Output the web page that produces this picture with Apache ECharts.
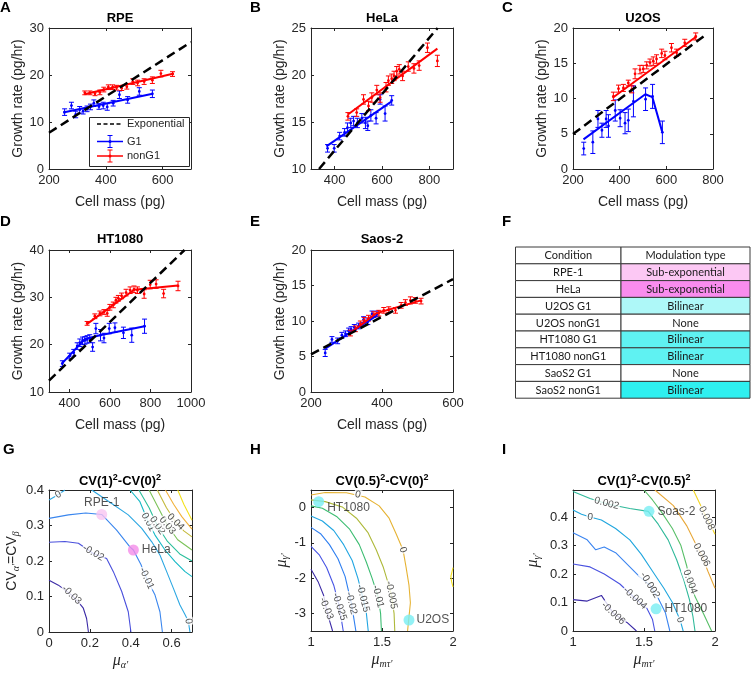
<!DOCTYPE html>
<html>
<head>
<meta charset="utf-8">
<script src="https://cdn.jsdelivr.net/npm/echarts@6/dist/echarts.min.js"></script>
<style>
html,body{margin:0;padding:0;background:#ffffff;}
#chart{width:751px;height:674px;}
</style>
</head>
<body>
<div id="chart"></div>
<script>
// ================= DATA =================
// tick labels
const ticksAx=[200,400,600], ticksAy=[0,10,20,30];
const ticksBx=[400,600,800], ticksBy=[10,15,20,25];
const ticksCx=[200,400,600,800], ticksCy=[0,5,10,15,20];
const ticksDx=[400,600,800,1000], ticksDy=[10,20,30,40];
const ticksEx=[200,400,600], ticksEy=[0,5,10,15,20];
const ticksGx=[0,0.2,0.4,0.6], ticksGy=[0,0.1,0.2,0.3,0.4];
const ticksHx=[1,1.5,2], ticksHy=[-3,-2,-1,0];
const ticksIx=[1,1.5,2], ticksIy=[0,0.1,0.2,0.3,0.4];

// Panel A (RPE): [mass, rate, err]
const aG1=[[255,12.1,0.7],[279,13.5,0.7],[294,11.6,0.7],[308,12.6,0.7],[320,12.3,0.6],[334,12.8,0.6],[346,13.2,0.6],[358,14.0,0.7],[376,13.3,0.6],[391,13.5,0.7],[405,13.2,0.7],[426,14.0,0.6],[448,15.8,0.8],[477,14.7,0.7],[518,16.5,0.8],[564,16.0,0.8]];
const aNonG1=[[326,16.2,0.4],[344,16.2,0.4],[362,16.0,0.4],[379,16.3,0.5],[393,16.9,0.5],[409,17.4,0.5],[424,17.4,0.5],[438,17.3,0.5],[456,17.2,0.5],[474,17.5,0.5],[495,18.6,0.6],[512,18.3,0.6],[535,18.6,0.6],[564,18.9,0.7],[594,20.3,0.7],[635,20.2,0.5]];
const aFitG1=[[250,12.0],[565,16.0]];
const aFitNonG1=[[325,15.9],[640,20.3]];
const aExp=[[200,7.72],[700,27.0]];

// Panel B (HeLa)
const bG1=[[370,12.2,0.4],[398,12.2,0.4],[421,13.5,0.4],[442,13.9,0.4],[454,14.4,0.5],[468,14.9,0.5],[480,15.1,0.5],[496,14.9,0.5],[515,15.4,0.5],[530,14.9,0.6],[540,14.6,0.5],[553,15.7,0.6],[575,15.4,0.6],[592,17.4,0.5],[613,15.9,0.8],[641,17.3,0.5]];
const bNonG1=[[456,15.6,0.4],[493,16.0,0.4],[522,17.4,0.5],[543,16.7,0.5],[557,17.6,0.5],[578,18.4,0.5],[592,17.6,0.5],[617,18.7,0.5],[627,19.4,0.5],[641,19.6,0.5],[651,19.9,0.5],[662,20.4,0.5],[673,20.6,0.5],[687,19.9,0.5],[711,20.9,0.5],[735,20.7,0.5],[757,21.0,0.5],[792,22.9,0.5],[834,21.5,0.6]];
const bFitG1=[[365,12.4],[641,17.2]];
const bFitNonG1=[[456,15.8],[834,22.8]];
const bExp=[[334,10],[835,25]];

// Panel C (U2OS)
const cG1=[[246,2.9,0.9],[285,3.8,1.6],[307,7.1,1.2],[324,5.5,1.0],[342,7.1,1.2],[352,6.1,1.6],[381,8.3,1.5],[402,7.2,1.2],[423,6.5,1.5],[437,6.9,1.6],[459,9.6,2.2],[511,9.9,1.6],[541,10.3,1.7],[583,5.2,1.6]];
const cNonG1=[[373,10.3,0.6],[395,11.4,0.5],[416,11.5,0.5],[437,12.2,0.4],[452,11.3,0.5],[466,13.5,0.7],[487,14.1,0.6],[501,14.2,0.5],[516,14.7,0.5],[530,15.1,0.5],[544,15.3,0.6],[558,15.6,0.6],[580,16.4,0.6],[594,16.1,0.6],[622,17.2,0.6],[644,16.5,0.5],[679,17.9,0.5],[726,18.8,0.5]];
const cFitG1=[[245,4.2],[510,10.6],[540,10.2],[582,5.3]];
const cFitNonG1=[[370,10.1],[729,18.8]];
const cExp=[[200,4.96],[771,19.1]];

// Panel D (HT1080)
const dG1=[[366,16.0,0.6],[402,17.6,0.6],[422,18.3,0.7],[439,19.7,0.7],[452,20.4,0.8],[465,20.8,0.8],[477,20.9,0.8],[488,21.1,0.8],[501,21.3,0.8],[515,19.5,0.9],[531,23.4,1.1],[554,22.0,1.2],[571,21.4,1.0],[597,23.4,1.1],[625,23.6,1.0],[667,22.5,1.2],[708,22.0,1.5],[771,23.9,1.5]];
const dNonG1=[[488,24.5,0.4],[526,26.0,0.5],[551,26.6,0.5],[571,26.9,0.5],[587,26.6,0.6],[600,27.9,0.6],[617,28.4,0.6],[630,29.4,0.6],[642,29.8,0.6],[658,30.3,0.6],[680,31.0,0.7],[700,31.5,0.7],[719,31.7,0.7],[736,31.5,0.7],[769,30.7,0.9],[799,32.7,0.9],[828,32.8,0.9],[865,30.8,0.9],[936,32.4,1.0]];
const dFitG1=[[361,15.9],[477,21.2],[551,22.0],[771,23.9]];
const dFitNonG1=[[488,24.4],[720,31.6],[936,32.5]];
const dExp=[[300,12.4],[968,40]];

// Panel E (Saos-2)
const eG1=[[240,5.5,0.5],[259,7.4,0.4],[275,7.2,0.4],[287,8.0,0.4],[297,8.2,0.4],[306,8.6,0.4],[313,8.8,0.4],[322,9.1,0.4],[334,9.3,0.4],[348,10.2,0.4],[360,9.9,0.4],[372,11.0,0.4],[386,11.0,0.4]];
const eNonG1=[[311,8.3,0.4],[325,8.9,0.4],[339,9.6,0.4],[350,10.1,0.4],[362,10.4,0.4],[377,10.9,0.4],[391,11.1,0.4],[405,11.5,0.4],[419,11.6,0.4],[438,11.5,0.4],[454,12.2,0.4],[466,12.6,0.4],[480,12.9,0.5],[494,12.9,0.4],[510,12.8,0.4]];
const eFitG1=[[240,6.1],[386,10.8]];
const eFitNonG1=[[311,8.3],[384,11.1],[510,12.9]];
const eExp=[[200,5.3],[600,15.9]];

// Panel F table
const conditions=['RPE-1','HeLa','U2OS G1','U2OS nonG1','HT1080 G1','HT1080 nonG1','SaoS2 G1','SaoS2 nonG1'];
const modulation=['Sub-exponential','Sub-exponential','Bilinear','None','Bilinear','Bilinear','None','Bilinear'];

// Panel G contours
const gLevels=[-0.03,-0.02,-0.01,0,0,0.01,0.02,0.03,0.04,0.05,0.06];
const gLines=[
 [[0,0.146],[0.046,0.132],[0.111,0.104],[0.15,0.08],[0.168,0.067],[0.184,0.038],[0.193,0]],
 [[0,0.253],[0.078,0.255],[0.144,0.25],[0.217,0.221],[0.282,0.207],[0.315,0.17],[0.356,0.114],[0.388,0.057],[0.401,0]],
 [[0,0.32],[0.095,0.33],[0.18,0.335],[0.258,0.331],[0.331,0.287],[0.396,0.24],[0.413,0.231],[0.45,0.19],[0.478,0.151],[0.519,0.104],[0.543,0.057],[0.555,0]],
 [[0,0.372],[0.04,0.385],[0.078,0.4]],
 [[0.209,0.4],[0.307,0.362],[0.388,0.33],[0.454,0.292],[0.503,0.254],[0.543,0.217],[0.576,0.17],[0.609,0.123],[0.641,0.076],[0.665,0.05],[0.682,0.03],[0.69,0]],
 [[0.397,0.4],[0.445,0.367],[0.486,0.31],[0.519,0.273],[0.568,0.231],[0.617,0.198],[0.666,0.17],[0.7,0.156]],
 [[0.44,0.4],[0.49,0.35],[0.53,0.3],[0.58,0.255],[0.64,0.22],[0.7,0.2]],
 [[0.49,0.4],[0.535,0.35],[0.58,0.3],[0.63,0.26],[0.7,0.231]],
 [[0.53,0.4],[0.575,0.35],[0.62,0.31],[0.66,0.285],[0.7,0.268]],
 [[0.57,0.4],[0.61,0.36],[0.65,0.325],[0.7,0.29]],
 [[0.63,0.4],[0.66,0.36],[0.7,0.315]]
];
const gLabels=[[0.045,0.387,'0',30],[0.111,0.104,'-0.03',-43],[0.217,0.223,'-0.02',-30],[0.478,0.151,'-0.01',-65],[0.682,0.03,'0',-80],[0.486,0.31,'0.01',-62],[0.53,0.3,'0.02',-55],[0.58,0.3,'0.03',-50],[0.62,0.31,'0.04',-45]];
const gDots=[['RPE-1',0.258,0.331],['HeLa',0.413,0.231]];

// Panel H contours
const hLevels=[-0.03,-0.025,-0.02,-0.015,-0.01,-0.005,0,0.005];
const hLines=[
 [[1.0,-1.75],[1.05,-2.1],[1.09,-2.5],[1.108,-2.86],[1.13,-3.2],[1.152,-3.5]],
 [[1.0,-1.1],[1.06,-1.35],[1.11,-1.7],[1.16,-2.2],[1.2,-2.81],[1.215,-3.2],[1.227,-3.5]],
 [[1.0,-0.56],[1.07,-0.75],[1.13,-1.05],[1.19,-1.45],[1.24,-1.95],[1.284,-2.71],[1.3,-3.1],[1.316,-3.5]],
 [[1.0,-0.24],[1.08,-0.38],[1.16,-0.65],[1.23,-1.05],[1.29,-1.5],[1.33,-2.0],[1.366,-2.57],[1.39,-3.0],[1.403,-3.5]],
 [[1.0,0.05],[1.08,-0.02],[1.18,-0.25],[1.27,-0.6],[1.34,-1.05],[1.39,-1.55],[1.43,-2.0],[1.472,-2.52],[1.49,-3.0],[1.496,-3.5]],
 [[1.0,0.22],[1.1,0.17],[1.22,0.02],[1.32,-0.3],[1.4,-0.7],[1.46,-1.2],[1.51,-1.7],[1.54,-2.1],[1.566,-2.48],[1.585,-3.0],[1.59,-3.5]],
 [[1.0,0.36],[1.1,0.43],[1.25,0.42],[1.38,0.3],[1.48,0.05],[1.55,-0.3],[1.6,-0.75],[1.648,-1.2],[1.67,-1.7],[1.69,-2.2],[1.7,-2.7],[1.69,-3.1],[1.68,-3.5]],
 [[2.0,-1.7],[1.985,-1.95],[1.99,-2.1],[2.0,-2.25]]
];
const hLabels=[[1.33,0.37,'0',-13],[1.648,-1.2,'0',-73],[1.566,-2.48,'-0.005',-79],[1.472,-2.52,'-0.01',-76],[1.366,-2.57,'-0.015',-76],[1.284,-2.71,'-0.02',-77],[1.2,-2.81,'-0.025',-72],[1.108,-2.86,'-0.03',-68]];
const hDots=[['HT1080',1.054,0.17],['U2OS',1.69,-3.19]];

// Panel I contours
const iLevels=[-0.006,-0.004,-0.002,0,0.002,0.004,0.006,0.008];
const iLines=[
 [[1.0,0.11],[1.1,0.105],[1.2,0.125],[1.284,0.062],[1.38,0.03],[1.447,0]],
 [[1.0,0.235],[1.12,0.225],[1.22,0.2],[1.33,0.165],[1.437,0.115],[1.52,0.08],[1.56,0.04],[1.576,0]],
 [[1.0,0.345],[1.1,0.32],[1.16,0.285],[1.22,0.295],[1.3,0.275],[1.4,0.225],[1.47,0.19],[1.542,0.161],[1.6,0.115],[1.65,0.065],[1.682,0]],
 [[1.0,0.425],[1.06,0.41],[1.12,0.40],[1.2,0.39],[1.3,0.36],[1.4,0.32],[1.48,0.27],[1.56,0.21],[1.64,0.15],[1.7,0.10],[1.754,0.039],[1.776,0]],
 [[1.0,0.49],[1.12,0.465],[1.25,0.445],[1.4,0.43],[1.53,0.42],[1.6,0.375],[1.67,0.32],[1.73,0.25],[1.78,0.18],[1.82,0.11],[1.845,0.05],[1.859,0]],
 [[1.5,0.495],[1.56,0.46],[1.62,0.42],[1.7,0.36],[1.76,0.3],[1.8,0.23],[1.824,0.173],[1.86,0.12],[1.92,0.06],[1.976,0]],
 [[1.577,0.495],[1.707,0.44],[1.8,0.37],[1.86,0.31],[1.906,0.267],[1.95,0.21],[2.0,0.15]],
 [[1.847,0.495],[1.9,0.44],[1.941,0.396],[1.97,0.37],[2.0,0.34]]
];
const iLabels=[[1.237,0.448,'0.002',-15],[1.12,0.40,'0',-8],[1.542,0.161,'-0.002',-58],[1.437,0.115,'-0.004',-42],[1.284,0.062,'-0.006',-43],[1.754,0.039,'0',-69],[1.824,0.173,'0.004',-70],[1.906,0.267,'0.006',-62],[1.941,0.396,'0.008',-65]];
const iDots=[['Soas-2',1.535,0.42],['HT1080',1.585,0.078]];

// ================= STYLE / LAYOUT =================
const FONT="'Liberation Sans', Arial, Helvetica, sans-serif";
const SERIF="'Liberation Serif', 'DejaVu Serif', serif";
const AXC='#262626';
const BLUE='#0000ff', RED='#ff0000';
const grids=[[49,28,142,141],[311,28,142,141],[573,28,140,141],[49,250,142,142],[311,250,142,142],[49,490,143,142],[311,490,142,141],[573,490,142,141]];
const gColors=['#3b2aa6','#4a50dc','#3a86ee','#2ca7e2','#2ca7e2','#16b9c6','#2bbf9c','#7cc35a','#c4ba3c','#f2b23c','#f4e11e'];
const hColors=['#3b2aa6','#4855e4','#2f7ff0','#22a6e2','#3dbd72','#aeb93a','#e6b334','#f5e11e'];
const iColors=['#3b2aa6','#4a52e0','#3a84f0','#20a6de','#2fb99a','#58bf68','#e8a83a','#f2d523'];
const modColors=['#fcc8f4','#f98cee','#aef8f8','#ffffff','#5ff2f2','#5ff2f2','#ffffff','#2ef0f0'];

const xAxes=[], yAxes=[];
function nameStyle(rich){return {fontSize:14,fontFamily:FONT,color:AXC,rich:rich||undefined};}
const fmt=v=>String(v);
function addAxes(gi,xr,xt,yr,yt,xname,yname,xgap,ygap,xrich,yrich){
  const common=(ticks)=>({type:'value',gridIndex:gi,splitLine:{show:false},
    axisLine:{show:true,onZero:false,lineStyle:{color:AXC,width:1}},
    axisTick:{show:true,inside:true,length:3,customValues:ticks,lineStyle:{color:AXC,width:1}}});
  xAxes.push(Object.assign(common(xt),{min:xr[0],max:xr[1],position:'bottom',
    axisLabel:{customValues:xt,formatter:fmt,color:AXC,fontSize:13,fontFamily:FONT,margin:5},
    name:xname,nameLocation:'middle',nameGap:xgap,nameTextStyle:nameStyle(xrich)}));
  xAxes.push(Object.assign(common(xt),{min:xr[0],max:xr[1],position:'top',axisLabel:{show:false}}));
  yAxes.push(Object.assign(common(yt),{min:yr[0],max:yr[1],position:'left',
    axisLabel:{customValues:yt,formatter:fmt,color:AXC,fontSize:13,fontFamily:FONT,margin:5},
    name:yname,nameLocation:'middle',nameGap:ygap,nameTextStyle:nameStyle(yrich)}));
  yAxes.push(Object.assign(common(yt),{min:yr[0],max:yr[1],position:'right',axisLabel:{show:false}}));
}
const subRich={
  n:{fontSize:14,fontFamily:FONT,color:AXC,lineHeight:18},
  m:{fontSize:16,fontFamily:SERIF,fontStyle:'italic',color:AXC,lineHeight:18},
  s:{fontSize:10,fontFamily:SERIF,fontStyle:'italic',color:AXC,lineHeight:6,verticalAlign:'bottom'}
};
addAxes(0,[200,700],ticksAx,[0,30],ticksAy,'Cell mass (pg)','Growth rate (pg/hr)',26,18);
addAxes(1,[300,900],ticksBx,[10,25],ticksBy,'Cell mass (pg)','Growth rate (pg/hr)',26,18);
addAxes(2,[200,800],ticksCx,[0,20],ticksCy,'Cell mass (pg)','Growth rate (pg/hr)',26,18);
addAxes(3,[300,1000],ticksDx,[10,40],ticksDy,'Cell mass (pg)','Growth rate (pg/hr)',26,18);
addAxes(4,[200,600],ticksEx,[0,20],ticksEy,'Cell mass (pg)','Growth rate (pg/hr)',26,18);
addAxes(5,[0,0.7],ticksGx,[0,0.4],ticksGy,"{m|μ}{s|α'}","{n|CV}{s|α'}{n|=CV}{s|β}",20,28,subRich,subRich);
addAxes(6,[1,2],ticksHx,[-3.5,0.5],ticksHy,"{m|μ}{s|mτ'}","{m|μ}{s|γ'}",20,19,subRich,subRich);
addAxes(7,[1,2],ticksIx,[0,0.495],ticksIy,"{m|μ}{s|mτ'}","{m|μ}{s|γ'}",20,31,subRich,subRich);

const series=[];
function errRender(color){
  return function(params,api){
    const x=api.value(0), y=api.value(1), e=api.value(2);
    const p=api.coord([x,y]), lo=api.coord([x,y-e]), hi=api.coord([x,y+e]);
    const w=2.5, st={stroke:color,lineWidth:1};
    return {type:'group',children:[
      {type:'line',shape:{x1:p[0],y1:hi[1],x2:p[0],y2:lo[1]},style:st},
      {type:'line',shape:{x1:p[0]-w,y1:hi[1],x2:p[0]+w,y2:hi[1]},style:st},
      {type:'line',shape:{x1:p[0]-w,y1:lo[1],x2:p[0]+w,y2:lo[1]},style:st},
      {type:'circle',shape:{cx:p[0],cy:p[1],r:1.4},style:{fill:color}}
    ]};
  };
}
function growthPanel(gi,g1,non,fitG1,fitNon,exp){
  const ax={xAxisIndex:2*gi,yAxisIndex:2*gi};
  series.push(Object.assign({type:'custom',data:g1,encode:{x:0,y:1},renderItem:errRender(BLUE),z:2},ax));
  series.push(Object.assign({type:'custom',data:non,encode:{x:0,y:1},renderItem:errRender(RED),z:2},ax));
  series.push(Object.assign({type:'line',data:fitG1,symbol:'none',lineStyle:{color:BLUE,width:2},z:3},ax));
  series.push(Object.assign({type:'line',data:fitNon,symbol:'none',lineStyle:{color:RED,width:2},z:3},ax));
  series.push(Object.assign({type:'line',data:exp,symbol:'none',lineStyle:{color:'#000',width:2.5,type:[9,5]},z:4},ax));
}
growthPanel(0,aG1,aNonG1,aFitG1,aFitNonG1,aExp);
growthPanel(1,bG1,bNonG1,bFitG1,bFitNonG1,bExp);
growthPanel(2,cG1,cNonG1,cFitG1,cFitNonG1,cExp);
growthPanel(3,dG1,dNonG1,dFitG1,dFitNonG1,dExp);
growthPanel(4,eG1,eNonG1,eFitG1,eFitNonG1,eExp);

function contourPanel(gi,lines,colors,labels,dots,dotColors,dotLabelPos){
  const ax={xAxisIndex:2*gi,yAxisIndex:2*gi};
  lines.forEach((pts,k)=>series.push(Object.assign({type:'line',data:pts,symbol:'none',silent:true,
     lineStyle:{color:colors[k],width:1.1},z:2},ax)));
  series.push(Object.assign({type:'scatter',symbolSize:0.1,itemStyle:{color:'rgba(0,0,0,0)'},z:5,silent:true,
    label:{show:true,position:'inside',fontSize:10,fontFamily:FONT,color:AXC,backgroundColor:'#ffffff',padding:[0,1]},
    data:labels.map(l=>({value:[l[0],l[1]],label:{formatter:l[2],rotate:l[3]}}))},ax));
  series.push(Object.assign({type:'scatter',symbolSize:11,z:6,silent:true,
    label:{show:true,fontSize:12,fontFamily:FONT,color:AXC},
    data:dots.map((d,k)=>({value:[d[1],d[2]],itemStyle:{color:dotColors[k]},
      label:Object.assign({formatter:d[0]},dotLabelPos[k])}))},ax));
}
contourPanel(5,gLines,gColors,gLabels,gDots,['#f9c4f1','#f48ce8'],[{position:'top',distance:0},{position:'right',distance:3}]);
contourPanel(6,hLines,hColors,hLabels,hDots,['#78eef2','#78eef2'],[{position:[14,6]},{position:'right',distance:2}]);
contourPanel(7,iLines,iColors,iLabels,iDots,['#78eef2','#78eef2'],[{position:'right',distance:3},{position:'right',distance:3}]);

// ================= GRAPHIC TEXT / TABLE / LEGEND =================
const graphic=[];
function txt(x,y,text,font,align,extra){
  graphic.push({type:'text',z:100,style:Object.assign({x,y,text,font,fill:AXC,align:align||'center',verticalAlign:'middle'},extra||{})});
}
[['A',0,8],['B',250,8],['C',502,8],['D',0,222],['E',250,222],['F',502,222],['G',3,450],['H',250,450],['I',502,450]]
  .forEach(l=>txt(l[1],l[2],l[0],'bold 15px '+FONT,'left',{fill:'#000'}));
[['RPE',120,18],['HeLa',382,18],['U2OS',643,18],['HT1080',120,239],['Saos-2',382,239]]
  .forEach(t=>txt(t[1],t[2],t[0],'bold 13px '+FONT,'center',{fill:'#000'}));
const supRich={t:{fontSize:13,fontWeight:'bold',fontFamily:FONT,fill:'#000',lineHeight:16},
               p:{fontSize:9,fontWeight:'bold',fontFamily:FONT,fill:'#000',lineHeight:8,verticalAlign:'top'}};
[['{t|CV(1)}{p|2}{t|-CV(0)}{p|2}',120,481],['{t|CV(0.5)}{p|2}{t|-CV(0)}{p|2}',382,481],['{t|CV(1)}{p|2}{t|-CV(0.5)}{p|2}',644,481]]
  .forEach(t=>txt(t[1],t[2],t[0],'bold 13px '+FONT,'center',{rich:supRich,fill:'#000'}));

// legend in A
graphic.push({type:'rect',z:100,shape:{x:89.5,y:117.5,width:100,height:49},style:{fill:'#fff',stroke:AXC,lineWidth:1}});
graphic.push({type:'line',z:101,shape:{x1:97,y1:124,x2:123,y2:124},style:{stroke:'#000',lineWidth:1.5,lineDash:[4,2.5]}});
txt(127,124,'Exponential','11px '+FONT,'left');
[[141.5,BLUE,'G1'],[156,RED,'nonG1']].forEach(e=>{
  const y=e[0], c=e[1];
  graphic.push({type:'line',z:101,shape:{x1:97,y1:y,x2:123,y2:y},style:{stroke:c,lineWidth:1.5}});
  graphic.push({type:'line',z:101,shape:{x1:110,y1:y-6,x2:110,y2:y+6},style:{stroke:c,lineWidth:1}});
  graphic.push({type:'line',z:101,shape:{x1:107.5,y1:y-6,x2:112.5,y2:y-6},style:{stroke:c,lineWidth:1}});
  graphic.push({type:'line',z:101,shape:{x1:107.5,y1:y+6,x2:112.5,y2:y+6},style:{stroke:c,lineWidth:1}});
  graphic.push({type:'circle',z:101,shape:{cx:110,cy:y,r:1.5},style:{fill:c}});
  txt(127,y,e[2],'11px '+FONT,'left');
});

// table F
const tL=515.5, tR=750, tC=621, tT=247, rh=16.8;
const TF="11px Lato, 'Open Sans', sans-serif";
for(let r=0;r<=conditions.length;r++){
  const y=tT+r*rh;
  const fill2 = r===0 ? '#ffffff' : modColors[r-1];
  graphic.push({type:'rect',z:100,shape:{x:tL,y:y,width:tC-tL,height:rh},style:{fill:'#fff',stroke:'#3a3a3a',lineWidth:1}});
  graphic.push({type:'rect',z:100,shape:{x:tC,y:y,width:tR-tC,height:rh},style:{fill:fill2,stroke:'#3a3a3a',lineWidth:1}});
  txt((tL+tC)/2,y+rh/2+0.5,r===0?'Condition':conditions[r-1],TF,'center',{fill:'#1a1a1a'});
  txt((tC+tR)/2,y+rh/2+0.5,r===0?'Modulation type':modulation[r-1],TF,'center',{fill:'#1a1a1a'});
}

const chart=echarts.init(document.getElementById('chart'),null,{renderer:'canvas',width:751,height:674});
chart.setOption({
  animation:false,
  backgroundColor:'#ffffff',
  grid:grids.map(g=>({left:g[0],top:g[1],width:g[2],height:g[3],containLabel:false})),
  xAxis:xAxes, yAxis:yAxes, series:series, graphic:graphic
});
</script>
</body>
</html>
